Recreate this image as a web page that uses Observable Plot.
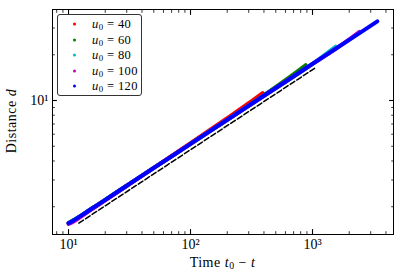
<!DOCTYPE html>
<html><head><meta charset="utf-8">
<script src="https://cdn.jsdelivr.net/npm/d3@7"></script>
<script src="https://cdn.jsdelivr.net/npm/@observablehq/plot@0.6"></script>
<style>
body{margin:0;background:#fff;}
#wrap{position:relative;width:400px;height:280px;font-family:"Liberation Serif",serif;color:#000;overflow:hidden;}
#wrap svg{position:absolute;left:0;top:0;}
.lab{position:absolute;font-size:14px;white-space:nowrap;letter-spacing:0.5px;line-height:1;}
.lab i{font-style:italic;}
.lab sub,.leg sub{font-size:70%;vertical-align:-0.25em;line-height:0;}
#legend{position:absolute;left:57px;top:14px;width:83px;height:80px;border:1px solid #333;border-radius:3px;background:#fff;}
.leg{position:absolute;left:34px;font-size:12.5px;white-space:nowrap;line-height:1;transform:translateY(-50%);letter-spacing:0.4px;}
.dot{position:absolute;left:14.5px;width:3px;height:3px;border-radius:50%;transform:translateY(-50%);}
</style></head><body><div id="wrap"></div>
<script>
// series labels (u0) and colours
const labels = ["40", "60", "80", "100", "120"];
const colors = ["#ff0000", "#008000", "#00bfbf", "#bf00bf", "#0000ff"];

// time t0 - t and distance d for each series
const t40 = [10, 12.5, 15, 20, 30, 50, 100, 200, 300, 390];
const d40 = [1.56, 1.735, 1.91, 2.22, 2.75, 3.60, 5.23, 7.65, 9.60, 11.2];
const t60 = [10, 12.5, 15, 20, 30, 50, 100, 200, 400, 600, 880];
const d60 = [1.56, 1.735, 1.91, 2.22, 2.75, 3.60, 5.18, 7.46, 10.85, 13.63, 17.1];
const t80 = [10, 12.5, 15, 20, 30, 50, 100, 200, 400, 1000, 1200, 1550];
const d80 = [1.56, 1.735, 1.91, 2.22, 2.75, 3.60, 5.18, 7.46, 10.74, 17.40, 19.38, 22.6];
const t100 = [10, 11, 12.5, 15, 20, 30, 50, 100, 200, 400, 1000, 1600, 2000, 2420];
const d100 = [1.54, 1.60, 1.71, 1.89, 2.20, 2.74, 3.60, 5.18, 7.46, 10.74, 17.40, 22.28, 25.25, 28.25];
const t120 = [10, 11, 12.5, 15, 20, 30, 50, 100, 200, 400, 700, 1000, 1600, 2500, 3400];
const d120 = [1.56, 1.625, 1.735, 1.91, 2.22, 2.75, 3.60, 5.18, 7.46, 10.74, 14.42, 17.40, 22.28, 28.17, 33.2];

// dashed reference line
const refT = [12.15, 1079];
const refD = [1.56, 16.6];

// ticks
const xMajor = [10, 100, 1000];
const xMinor = [8, 9, 20, 30, 40, 50, 60, 70, 80, 90, 200, 300, 400, 500, 600, 700, 800, 900, 2000, 3000, 4000];
const yMajor = [10];
const yMinor = [2, 3, 4, 5, 6, 7, 8, 9, 20, 30];

const tsArr = [t40, t60, t80, t100, t120];
const dsArr = [d40, d60, d80, d100, d120];
const rowsFor = (ts, ds) => ts.map((t, i) => ({t, d: ds[i]}));

const sup = {"1": "\u00b9", "2": "\u00b2", "3": "\u00b3"};
const fmt = v => "10" + sup[String(Math.round(Math.log10(v)))];

const seriesMarks = tsArr.map((ts, k) =>
  Plot.line(rowsFor(ts, dsArr[k]), {x: "t", y: "d", stroke: colors[k], strokeWidth: 4, strokeLinecap: "round", strokeLinejoin: "round", curve: "monotone-x"})
);

const chart = Plot.plot({
  width: 400, height: 280,
  marginLeft: 52, marginRight: 7, marginTop: 9, marginBottom: 46,
  x: {type: "log", domain: [7.39, 4613]},
  y: {type: "log", domain: [1.313, 39.7]},
  style: {fontFamily: "Liberation Serif, serif", fontSize: "14px", background: "#fff", color: "#000"},
  marks: [
    ...seriesMarks,
    Plot.line(rowsFor(refT, refD), {x: "t", y: "d", stroke: "#000", strokeWidth: 1.5, strokeDasharray: "5.5,2.4"}),
    Plot.frame({stroke: "#000", strokeWidth: 1}),
    Plot.axisX({ticks: xMajor, anchor: "bottom", tickSize: 0, tickPadding: 5, tickFormat: fmt, label: null}),
    Plot.axisY({ticks: yMajor, anchor: "left", tickSize: 0, tickPadding: 4, tickFormat: fmt, label: null}),
    Plot.axisX({ticks: xMajor, anchor: "bottom", tickSize: -4.9, tickFormat: () => "", label: null, strokeWidth: 1.1}),
    Plot.axisX({ticks: xMajor, anchor: "top", tickSize: -4.9, tickFormat: () => "", label: null, strokeWidth: 1.1}),
    Plot.axisX({ticks: xMinor, anchor: "bottom", tickSize: -2.8, tickFormat: () => "", label: null, strokeWidth: 0.8}),
    Plot.axisX({ticks: xMinor, anchor: "top", tickSize: -2.8, tickFormat: () => "", label: null, strokeWidth: 0.8}),
    Plot.axisY({ticks: yMajor, anchor: "left", tickSize: -4.9, tickFormat: () => "", label: null, strokeWidth: 1.1}),
    Plot.axisY({ticks: yMajor, anchor: "right", tickSize: -4.9, tickFormat: () => "", label: null, strokeWidth: 1.1}),
    Plot.axisY({ticks: yMinor, anchor: "left", tickSize: -2.8, tickFormat: () => "", label: null, strokeWidth: 0.8}),
    Plot.axisY({ticks: yMinor, anchor: "right", tickSize: -2.8, tickFormat: () => "", label: null, strokeWidth: 0.8})
  ]
});

const wrap = document.getElementById("wrap");
wrap.appendChild(chart);

// axis labels
const xl = document.createElement("div");
xl.className = "lab";
xl.style.left = "222.5px"; xl.style.top = "263px"; xl.style.transform = "translate(-50%,-50%)";
xl.innerHTML = "Time <i>t</i><sub>0</sub> \u2212 <i>t</i>";
wrap.appendChild(xl);
const yl = document.createElement("div");
yl.className = "lab";
yl.style.left = "12px"; yl.style.top = "121px"; yl.style.transform = "translate(-50%,-50%) rotate(-90deg)";
yl.innerHTML = "Distance <i>d</i>";
wrap.appendChild(yl);

// legend
const lg = document.createElement("div");
lg.id = "legend";
labels.forEach((lab, k) => {
  const cy = 9 + k * 15.5;
  const dot = document.createElement("span");
  dot.className = "dot"; dot.style.top = cy + "px"; dot.style.background = colors[k];
  lg.appendChild(dot);
  const tx = document.createElement("span");
  tx.className = "leg"; tx.style.top = cy + "px";
  tx.innerHTML = "<i>u</i><sub>0</sub> = " + lab;
  lg.appendChild(tx);
});
wrap.appendChild(lg);
</script>
</body></html>
